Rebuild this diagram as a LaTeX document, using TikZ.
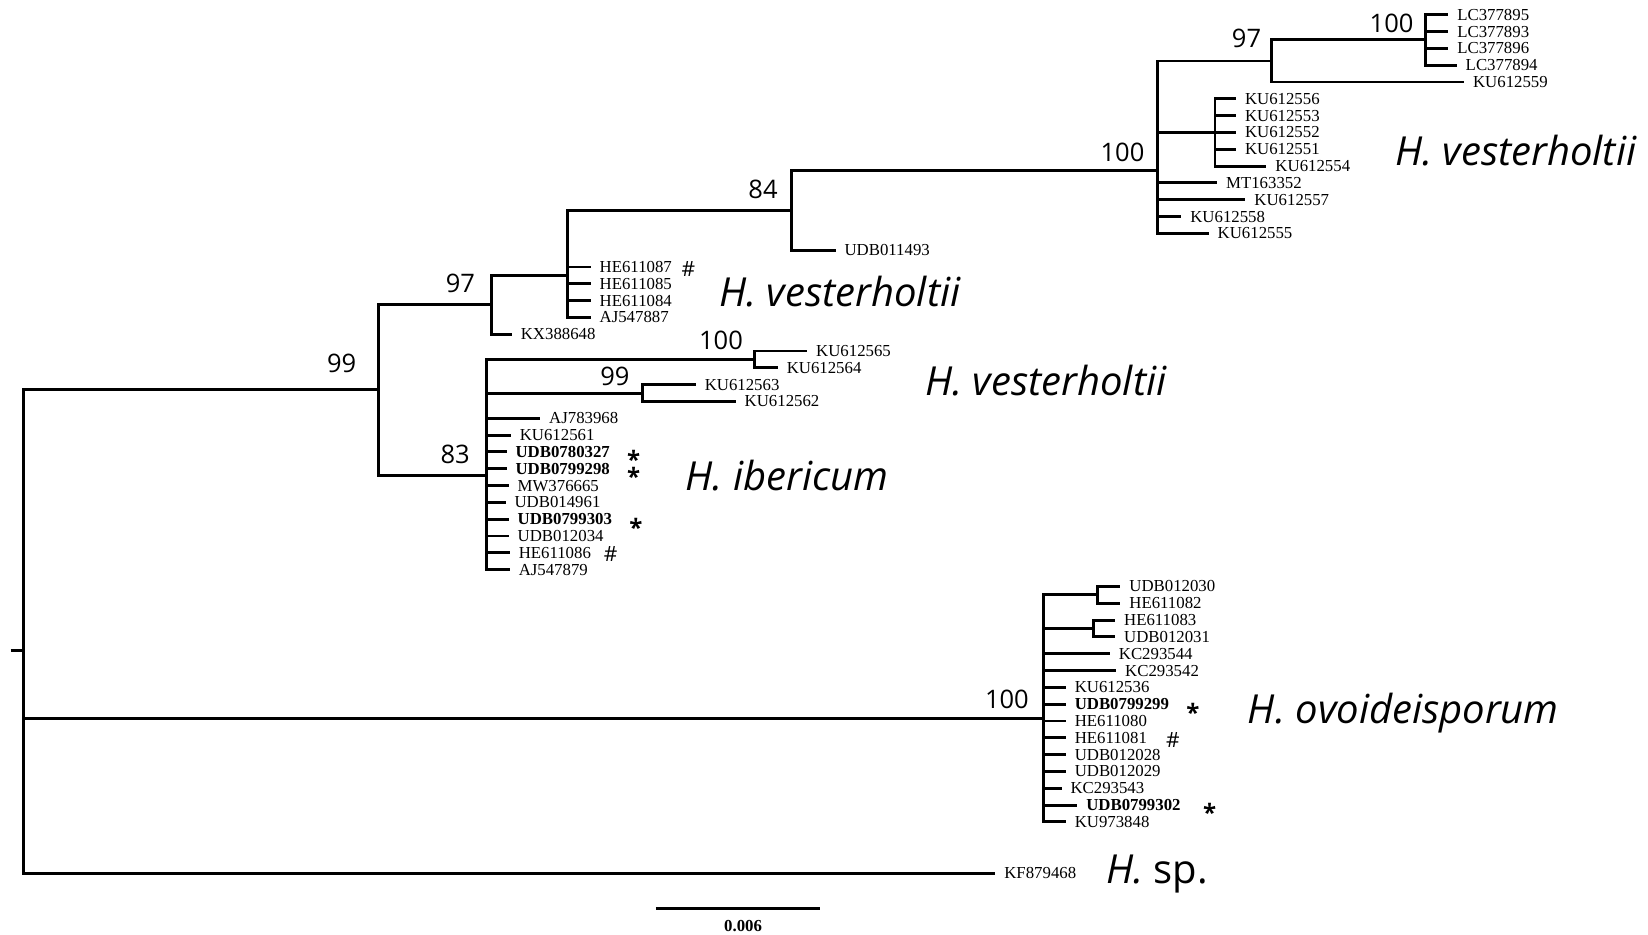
\documentclass[tikz,border=0pt]{standalone}
\usepackage{fontspec}
\setmainfont{Liberation Serif}
\newfontfamily\osans{Open Sans}
\begin{document}
\begin{tikzpicture}[x=1.051pt,y=-1.051pt,line width=2.9pt,line join=miter,
  tip/.style={anchor=west,inner xsep=9pt,inner ysep=0pt,outer sep=0pt,
    font=\fontsize{16.8}{18}\selectfont,text height=11pt,text depth=0pt},
  tipb/.style={tip,font=\fontsize{16.8}{18}\selectfont\bfseries},
  boot/.style={inner sep=0pt,font=\osans\fontsize{25.5}{25.5}\selectfont,text height=18pt,text depth=0pt},
  clade/.style={anchor=base west,inner sep=0pt,font=\osans\fontsize{40}{40}\selectfont\itshape},
  starmark/.style={anchor=base,inner sep=0pt,font=\osans\fontsize{24}{24}\selectfont\bfseries},
  hashmark/.style={anchor=base,inner sep=0pt,font=\osans\fontsize{21}{21}\selectfont}]
\useasboundingbox (0,0) rectangle (1568,889);
% internal nodes
\coordinate (rt) at (10,619);
\coordinate (r) at (22,619);
\coordinate (n99) at (360,371);
\coordinate (n97) at (468,290);
\coordinate (nA) at (540,262);
\coordinate (n84) at (753,200);
\coordinate (n100a) at (1101,162);
\coordinate (n97b) at (1210,58);
\coordinate (n100b) at (1356,38);
\coordinate (nK) at (1156,126);
\coordinate (n83) at (463,452);
\coordinate (n100c) at (718,342);
\coordinate (n99b) at (611,374);
\coordinate (n100d) at (993,684);
\coordinate (nO1) at (1044,566);
\coordinate (nO2) at (1040,598);
% tips
\node[tip] (a1) at (1378,14) {LC377895};
\node[tip] (a2) at (1378,30) {LC377893};
\node[tip] (a3) at (1378,46) {LC377896};
\node[tip] (a4) at (1386,62) {LC377894};
\node[tip] (a5) at (1393,78) {KU612559};
\node[tip] (b1) at (1176,94) {KU612556};
\node[tip] (b2) at (1176,110) {KU612553};
\node[tip] (b3) at (1176,126) {KU612552};
\node[tip] (b4) at (1176,142) {KU612551};
\node[tip] (b5) at (1205,158) {KU612554};
\node[tip] (c1) at (1158,174) {MT163352};
\node[tip] (c2) at (1185,190) {KU612557};
\node[tip] (c3) at (1124,206) {KU612558};
\node[tip] (c4) at (1150,222) {KU612555};
\node[tip] (d1) at (795,238) {UDB011493};
\node[tip] (e1) at (562,254) {HE611087};
\node[tip] (e2) at (562,270) {HE611085};
\node[tip] (e3) at (562,286) {HE611084};
\node[tip] (e4) at (562,302) {AJ547887};
\node[tip] (f1) at (487,318) {KX388648};
\node[tip] (g1) at (768,334) {KU612565};
\node[tip] (g2) at (740,350) {KU612564};
\node[tip] (h1) at (662,366) {KU612563};
\node[tip] (h2) at (700,382) {KU612562};
\node[tip] (i1) at (514,398) {AJ783968};
\node[tip] (i2) at (486,414) {KU612561};
\node[tipb] (i3) at (482,430) {UDB0780327};
\node[tipb] (i4) at (482,446) {UDB0799298};
\node[tip] (i5) at (484,462) {MW376665};
\node[tip] (i6) at (481,478) {UDB014961};
\node[tipb] (i7) at (484,494) {UDB0799303};
\node[tip] (i8) at (484,510) {UDB012034};
\node[tip] (i9) at (485,526) {HE611086};
\node[tip] (i10) at (485,542) {AJ547879};
\node[tip] (j1) at (1066,558) {UDB012030};
\node[tip] (j2) at (1066,574) {HE611082};
\node[tip] (k1) at (1061,590) {HE611083};
\node[tip] (k2) at (1061,606) {UDB012031};
\node[tip] (l1) at (1056,622) {KC293544};
\node[tip] (l2) at (1062,638) {KC293542};
\node[tip] (l3) at (1014,654) {KU612536};
\node[tipb] (l4) at (1014,670) {UDB0799299};
\node[tip] (l5) at (1014,686) {HE611080};
\node[tip] (l6) at (1014,702) {HE611081};
\node[tip] (l7) at (1014,718) {UDB012028};
\node[tip] (l8) at (1014,734) {UDB012029};
\node[tip] (l9) at (1010,750) {KC293543};
\node[tipb] (l10) at (1025,766) {UDB0799302};
\node[tip] (l11) at (1014,782) {KU973848};
\node[tip] (m1) at (947,831) {KF879468};
% branches
\draw (rt) -- (r);
\draw (r) |- (n99);
\draw (r) |- (n100d);
\draw (r) |- (m1.west);
\draw (n99) |- (n97);
\draw (n99) |- (n83);
\draw (n97) |- (nA);
\draw (n97) |- (f1.west);
\draw (nA) |- (n84);
\foreach \t in {e1,e2,e3,e4} \draw (nA) |- (\t.west);
\draw (n84) |- (n100a);
\draw (n84) |- (d1.west);
\draw (n100a) |- (n97b);
\draw (n100a) |- (nK);
\foreach \t in {c1,c2,c3,c4} \draw (n100a) |- (\t.west);
\draw (n97b) |- (n100b);
\draw (n97b) |- (a5.west);
\foreach \t in {a1,a2,a3,a4} \draw (n100b) |- (\t.west);
\foreach \t in {b1,b2,b3,b4,b5} \draw (nK) |- (\t.west);
\draw (n83) |- (n100c);
\draw (n83) |- (n99b);
\foreach \t in {i1,i2,i3,i4,i5,i6,i7,i8,i9,i10} \draw (n83) |- (\t.west);
\foreach \t in {g1,g2} \draw (n100c) |- (\t.west);
\foreach \t in {h1,h2} \draw (n99b) |- (\t.west);
\draw (n100d) |- (nO1);
\draw (n100d) |- (nO2);
\foreach \t in {l1,l2,l3,l4,l5,l6,l7,l8,l9,l10,l11} \draw (n100d) |- (\t.west);
\foreach \t in {j1,j2} \draw (nO1) |- (\t.west);
\foreach \t in {k1,k2} \draw (nO2) |- (\t.west);
% bootstrap values
\node[boot] (bs1) at (1324,22) {100};
\node[boot] (bs2) at (1186,37) {97};
\node[boot] (bs3) at (1068,145) {100};
\node[boot] (bs4) at (726,180) {84};
\node[boot] (bs5) at (438,270) {97};
\node[boot] (bs6) at (325,346) {99};
\node[boot] (bs7) at (686,324) {100};
\node[boot] (bs8) at (585,358) {99};
\node[boot] (bs9) at (433,432) {83};
\node[boot] (bs10) at (958,666) {100};
% markers
\node[hashmark] (m_e1) at (655,263) {\#};
\node[starmark] (m_i3) at (603,446) {*};
\node[starmark] (m_i4) at (603,462) {*};
\node[starmark] (m_i7) at (605,510) {*};
\node[hashmark] (m_i9) at (581,534) {\#};
\node[starmark] (m_l4) at (1135,686) {*};
\node[hashmark] (m_l6) at (1116,711) {\#};
\node[starmark] (m_l10) at (1151,782) {*};
% clade names
\node[clade] (cl1) at (1326,157) {H. vesterholtii};
\node[clade] (cl2) at (683,292) {H. vesterholtii};
\node[clade] (cl3) at (879,376) {H. vesterholtii};
\node[clade] (cl4) at (651,467) {H. ibericum};
\node[clade] (cl5) at (1186,688) {H. ovoideisporum};
\node[clade] (cl6) at (1051,841) {H.\upshape\ sp.};
% scale bar
\coordinate (s1) at (624,864);
\coordinate (s2) at (780,864);
\draw (s1) -- (s2);
\node[inner sep=0pt,font=\fontsize{16.8}{18}\selectfont\bfseries] (sl) at (707,881) {0.006};
\end{tikzpicture}
\end{document}
